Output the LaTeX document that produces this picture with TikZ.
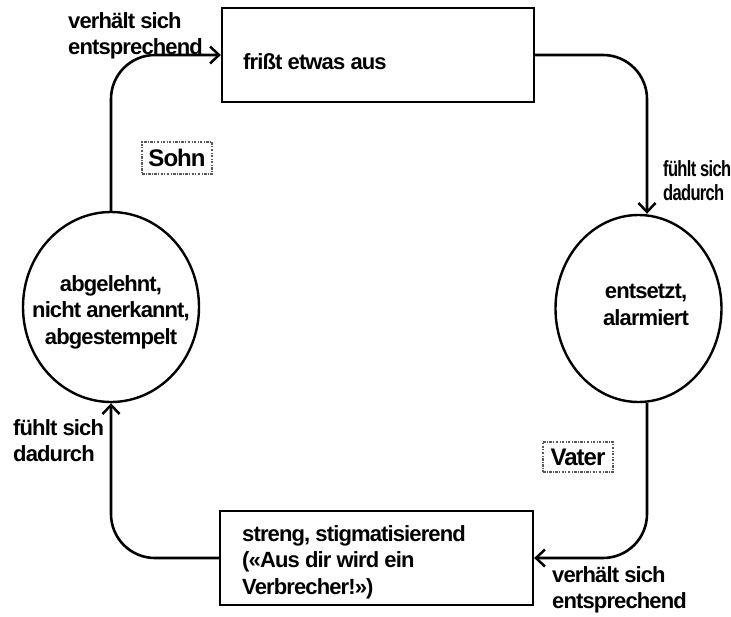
\documentclass[tikz,border=0pt]{standalone}
\usepackage{fontspec}
\setmainfont{Liberation Sans}[LetterSpace=-4]
\usetikzlibrary{arrows.meta,shapes.geometric}
\begin{document}
\begin{tikzpicture}[x=1pt,y=-1pt,
  txt/.style={inner sep=0pt, font=\fontsize{22}{26.5}\selectfont\bfseries, align=left},
  frame/.style={draw, line width=2.3pt, inner sep=0pt},
  oval/.style={draw, ellipse, line width=2.4pt, inner sep=0pt},
  conn/.style={line width=2.6pt, rounded corners=44pt,
    -{Straight Barb[length=9pt,width=17pt,line width=2.5pt]}},
  role/.style={draw=black!65, line width=1.5pt,
    dash pattern=on 2.5pt off 1.2pt on 1pt off 1.5pt,
    inner sep=0pt, font=\fontsize{24}{24}\selectfont\bfseries},
]
\useasboundingbox (0,0) rectangle (731,616);

% the two actions
\node[frame, minimum width=312pt, minimum height=94pt] (fress) at (378,55) {};
\node[txt, anchor=west] (fresstext) at (243,62) {frißt etwas aus};
\node[frame, minimum width=313pt, minimum height=94pt] (streng) at (376.5,558) {};
\node[txt, anchor=north west] (strengtext) at (242,525)
  {streng, stigmatisierend\\(«Aus dir wird ein\\Verbrecher!»)};

% the two states
\node[oval, minimum width=176pt, minimum height=190pt] (sohn) at (111,307) {};
\node[txt, align=center, anchor=north] (sohntext) at (111,275)
  {abgelehnt,\\nicht anerkannt,\\abgestempelt};
\node[oval, minimum width=166pt, minimum height=187pt] (vater) at (638.5,308.5) {};
\node[txt, align=center, anchor=north] (vatertext) at (646,284)
  {entsetzt,\\alarmiert};

% role tags
\node[role, minimum width=70pt, minimum height=32pt] (sohnlabel) at (177,158) {Sohn};
\node[role, minimum width=70pt, minimum height=30pt] (vaterlabel) at (578,457) {Vater};

% the loop
\draw[conn] (sohn.north) |- (fress.west);
\draw[conn] (fress.east) -| ([xshift=8.5pt]vater.north);
\draw[conn] ([xshift=8.5pt]vater.south) |- (streng.east);
\draw[conn] (streng.west) -| (sohn.south);

% connector labels
\node[txt, anchor=north west] (l1) at (68,12) {verhält sich\\entsprechend};
\node[txt, anchor=north west, xscale=0.75, font=\fontsize{22}{24}\selectfont\bfseries]
  (l2) at (663,160) {fühlt sich\\dadurch};
\node[txt, anchor=north west] (l3) at (13,419) {fühlt sich\\dadurch};
\node[txt, anchor=north west] (l4) at (552,566) {verhält sich\\entsprechend};
\end{tikzpicture}
\end{document}
